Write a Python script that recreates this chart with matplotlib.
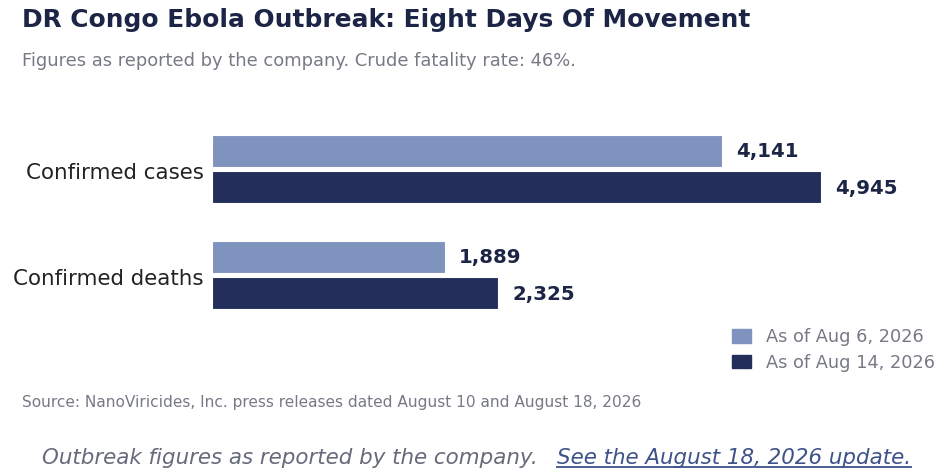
import matplotlib
matplotlib.use("Agg")
import matplotlib.pyplot as plt
import matplotlib.transforms as mtransforms
from matplotlib.patches import Rectangle
from matplotlib.lines import Line2D

categories = ["Confirmed cases", "Confirmed deaths"]
series_names = ["As of Aug 6, 2026", "As of Aug 14, 2026"]
aug6 = [4141, 1889]
aug14 = [4945, 2325]

LIGHT = "#7f93bf"
DARK = "#232f5a"
TITLE_C = "#1c2545"
GRAY = "#777a85"

plt.rcParams['font.family'] = ['DejaVu Sans']
W, H = 942, 474
fig = plt.figure(figsize=(W/100, H/100), dpi=100)

ax_l, ax_r = 212, 900
ax_t, ax_b = 116, 328
ax = fig.add_axes([ax_l/W, 1-ax_b/H, (ax_r-ax_l)/W, (ax_b-ax_t)/H])
ax.set_xlim(0, 5587)
ax.set_ylim(2.0, 0.0)

h = 0.295
gap = 0.0235
ypos = [0.5, 1.5]
for i in range(len(categories)):
    y1 = ypos[i] - gap - h/2
    y2 = ypos[i] + gap + h/2
    ax.barh(y1, aug6[i], height=h, color=LIGHT, edgecolor="white", linewidth=0.8)
    ax.barh(y2, aug14[i], height=h, color=DARK, edgecolor="white", linewidth=0.8)
    ax.annotate(f"{aug6[i]:,}", (aug6[i], y1), xytext=(14, -1), textcoords="offset pixels",
                va="center", ha="left", fontsize=14.2, fontweight="bold", color=TITLE_C)
    ax.annotate(f"{aug14[i]:,}", (aug14[i], y2), xytext=(14, -1), textcoords="offset pixels",
                va="center", ha="left", fontsize=14.2, fontweight="bold", color=TITLE_C)

ax.set_yticks(ypos)
ax.set_yticklabels(categories, fontsize=15.4, color="#222222")
ax.tick_params(axis="y", length=0, pad=6)
offset = mtransforms.ScaledTranslation(0, -2/100, fig.dpi_scale_trans)
for lbl in ax.get_yticklabels():
    lbl.set_transform(lbl.get_transform() + offset)
ax.set_xticks([])
for s in ax.spines.values():
    s.set_visible(False)

fig.text(22/W, 1-20/H, "DR Congo Ebola Outbreak: Eight Days Of Movement",
         fontsize=17.9, fontweight="bold", color=TITLE_C, ha="left", va="center")
fig.text(22/W, 1-61/H, "Figures as reported by the company. Crude fatality rate: 46%.",
         fontsize=12.9, color=GRAY, ha="left", va="center")

handles = [Rectangle((0, 0), 1, 1, color=LIGHT), Rectangle((0, 0), 1, 1, color=DARK)]
leg = fig.legend(handles, series_names, loc="center left",
                 bbox_to_anchor=(716/W, 1-350/H), frameon=False, fontsize=12.8,
                 handlelength=1.07, handleheight=0.8, handletextpad=0.84, labelspacing=0.4)
for t in leg.get_texts():
    t.set_color(GRAY)

fig.text(22/W, 1-402/H, "Source: NanoViricides, Inc. press releases dated August 10 and August 18, 2026",
         fontsize=11.1, color=GRAY, ha="left", va="center")

t1 = fig.text(42/W, 1-458/H, "Outbreak figures as reported by the company.",
              fontsize=15.4, style="italic", color="#666a7a", ha="left", va="center")
t2 = fig.text(557/W, 1-458/H, "See the August 18, 2026 update.",
              fontsize=15.4, style="italic", color="#3d5289", ha="left", va="center")
fig.canvas.draw()
bb = t2.get_window_extent()
yl = bb.y0 + 1
fig.add_artist(Line2D([bb.x0/W, bb.x1/W], [yl/H, yl/H], color="#3d5289", linewidth=1.3,
                      transform=fig.transFigure))

fig.savefig("out.png", dpi=100, facecolor="white")
